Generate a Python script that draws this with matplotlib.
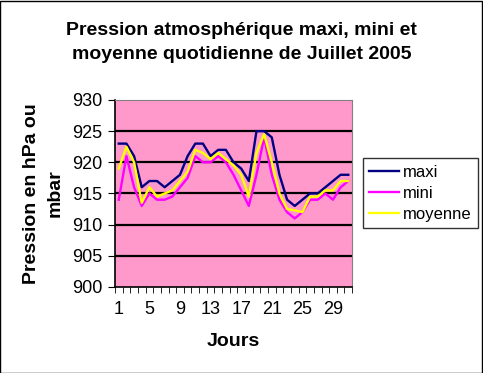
import matplotlib
matplotlib.use('Agg')
import matplotlib.pyplot as plt
import numpy as np

plt.rcParams['font.family'] = ['Liberation Sans', 'DejaVu Sans']

# données : pression de juillet 2005
jours = list(range(1, 32))
maxi = [923, 923, 921, 916, 917, 917, 916, 917, 918, 921,
        923, 923, 921, 922, 922, 920, 919, 917, 925, 925,
        924, 918, 914, 913, 914, 915, 915, 916, 917, 918, 918]
mini = [914, 921, 916, 913, 915, 914, 914, 914.5, 916, 917.5,
        921, 920, 920, 921, 920, 918, 915.5, 913, 918, 924,
        918, 914, 912, 911, 912, 914, 914, 915, 914, 916, 917]
moyenne = [919, 922.5, 920, 913.5, 916, 914.5, 915, 915.5, 917, 918.5,
           922, 921.5, 920.5, 921.5, 920.5, 919.5, 918, 914.5, 921.5, 924.5,
           920, 915, 912.5, 912.3, 912, 914.5, 914.5, 915.5, 915.5, 917, 917]
yticks = [900, 905, 910, 915, 920, 925, 930]
xticks = [1, 5, 9, 13, 17, 21, 25, 29]

fig = plt.figure(figsize=(4.83, 3.73), dpi=100)
fig.patches.append(plt.Rectangle((0.001, 0.001), 0.997, 0.996, transform=fig.transFigure,
                                 fill=False, edgecolor='black', linewidth=1))

ax = fig.add_axes([0.238, 0.2306, 0.491, 0.5014])
ax.set_facecolor('#FF99CC')

for y in yticks[1:-1]:
    ax.axhline(y, color='black', linewidth=1.6, zorder=1)

ax.plot(jours, maxi, color='#000080', linewidth=1.7, label='maxi', zorder=3)
ax.plot(jours, mini, color='#FF00FF', linewidth=1.7, label='mini', zorder=3)
ax.plot(jours, moyenne, color='#FFFF00', linewidth=1.7, label='moyenne', zorder=4)

ax.set_xlim(0.5, 31.5)
ax.set_ylim(900, 930)
ax.set_yticks(yticks)
ax.set_xticks(xticks)
ax.set_xticks(np.arange(0.5, 32, 1), minor=True)
ax.tick_params(axis='x', which='major', length=0, pad=10, labelsize=13)
ax.tick_params(axis='x', which='minor', length=4, direction='out')
ax.tick_params(axis='y', length=5, direction='out', labelsize=13, pad=4)

for s in ['top', 'right']:
    ax.spines[s].set_color('#808080')
    ax.spines[s].set_linewidth(0.8)
for s in ['left', 'bottom']:
    ax.spines[s].set_linewidth(1.2)

ax.set_xlabel('Jours', fontsize=14, fontweight='bold', labelpad=11)
ax.set_ylabel('Pression en hPa ou\nmbar', fontsize=14, fontweight='bold', labelpad=6,
              linespacing=1.5)

fig.text(0.5, 0.886, 'Pression atmosphérique maxi, mini et\nmoyenne quotidienne de Juillet 2005',
         ha='center', va='center', fontsize=14, fontweight='bold', linespacing=1.55)

leg = ax.legend(loc='center left', bbox_to_anchor=(1.045, 0.5), frameon=True, fancybox=False,
                edgecolor='black', fontsize=12, handlelength=1.75, borderpad=0.4,
                labelspacing=0.35, handletextpad=0.25, borderaxespad=0)
leg.get_frame().set_linewidth(1)

fig.savefig('out.png', dpi=100)
